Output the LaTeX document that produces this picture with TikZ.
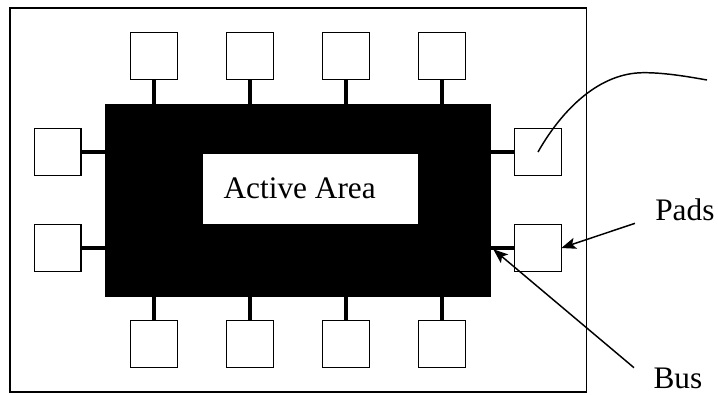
\documentclass[tikz,border=0pt]{standalone}
\usepackage{fontspec}
\setmainfont{Liberation Serif}
\usetikzlibrary{arrows.meta,fit}
\begin{document}
\begin{tikzpicture}[x=0.75pt,y=-0.75pt,
  pad/.style={draw, line width=1.2pt, fill=white, minimum size=35pt, inner sep=0pt, outer sep=0pt},
  stem/.style={line width=3pt},
  thinline/.style={line width=1.1pt},
  label/.style={font=\fontsize{23.5}{28}\selectfont, inner sep=0pt, anchor=base west},
  pointer/.style={line width=1.1pt, -{Stealth[length=11pt,width=8.5pt,inset=2.5pt]}}]
  \useasboundingbox (0,0) rectangle (718,394);

  % chip outline
  \node[fit={(10,8) (586.5,392)}, draw, thinline, inner sep=0pt] (frame) {};

  % bus ring and active area
  \node[fit={(105,103.5) (490.5,296.5)}, fill=black, inner sep=0pt, outer sep=0pt] (core) {};
  \node[fit={(203,153.5) (417.5,223.5)}, fill=white, inner sep=0pt, outer sep=0pt] (active) {};
  \node[label] (activetxt) at (223.3,198.3) {Active Area};

  % pads
  \foreach \i/\x in {1/154,2/250,3/346,4/442} {
    \node[pad] (tp\i) at (\x,56) {};
    \node[pad] (bp\i) at (\x,344) {};
    \draw[stem] (tp\i.south) -- (tp\i.south |- core.north);
    \draw[stem] (bp\i.north) -- (bp\i.north |- core.south);
  }
  \foreach \i/\y in {1/152,2/248} {
    \node[pad] (lp\i) at (57.75,\y) {};
    \node[pad] (rp\i) at (538,\y) {};
    \draw[stem] (lp\i.east) -- (lp\i.east -| core.west);
    \draw[stem] (rp\i.west) -- (rp\i.west -| core.east);
  }

  % bond wire leaving a pad
  \coordinate (peak) at (643,72.7);
  \coordinate (lead) at (707,80);
  \draw[thinline] (rp1.center) .. controls (563,108) and (600,73) .. (peak)
                  .. controls (665,72.5) and (690,77) .. (lead);

  % labels with pointers
  \node[label] (pads) at (655,220.7) {Pads};
  \node[label] (bus) at (653.3,388.3) {Bus};
  \coordinate (padsfrom) at (635,223.3);
  \coordinate (busfrom) at (634,367.7);
  \coordinate (bustip) at (493.3,249.3);
  \draw[pointer] (padsfrom) -- (rp2.east);
  \draw[pointer] (busfrom) -- (bustip);
\end{tikzpicture}
\end{document}
